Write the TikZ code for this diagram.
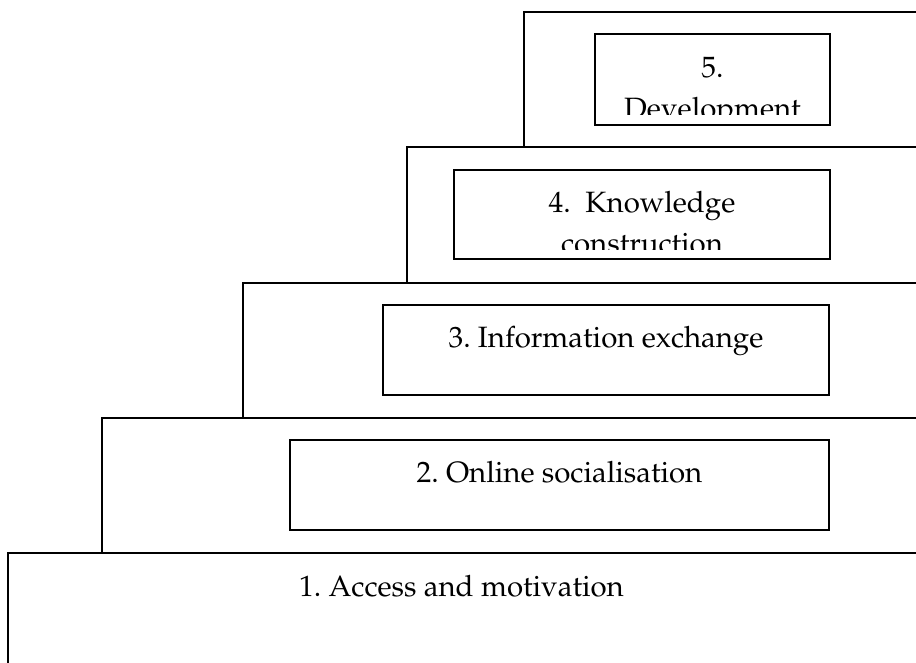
\documentclass[tikz,border=0pt]{standalone}
\usepackage[T1]{fontenc}
\usepackage{palatino}
\frenchspacing
\begin{document}
\begin{tikzpicture}[x=1pt,y=-1pt,line width=1.2pt,
  lbl/.style={anchor=base,inner sep=0pt,font=\fontsize{29.4}{41}\selectfont}]
\useasboundingbox (0,0) rectangle (916,662);
\clip (0,0) rectangle (916,662);
% steps, bottom to top
\foreach \l/\t/\b in {8/553/680, 102/418/553, 243/283/418, 407/147/283, 524/12/147}
  \draw (\l,\b) -- (\l,\t) -- (930,\t);
% boxes on the steps
\draw (290,440) rectangle (829,530);
\draw (383,305) rectangle (829,395);
\draw (454,170) rectangle (830,259);
\draw (595,34) rectangle (830,125);
% labels
\node[lbl] (access) at (461.5,596) {1. Access and motivation};
\node[lbl] (social) at (559.5,482) {2. Online socialisation};
\node[lbl] (info) at (606,347) {3. Information exchange};
\node[lbl] (know) at (642,212) {4.\ \ Knowledge};
\node[lbl] (five) at (712.5,77) {5.};
\begin{scope}
\clip (454,170) rectangle (830,249);
\node[lbl] (constr) at (642,253) {construction};
\end{scope}
\begin{scope}
\clip (595,34) rectangle (830,114);
\node[lbl] (devel) at (712.5,118) {Development};
\end{scope}
\end{tikzpicture}
\end{document}
